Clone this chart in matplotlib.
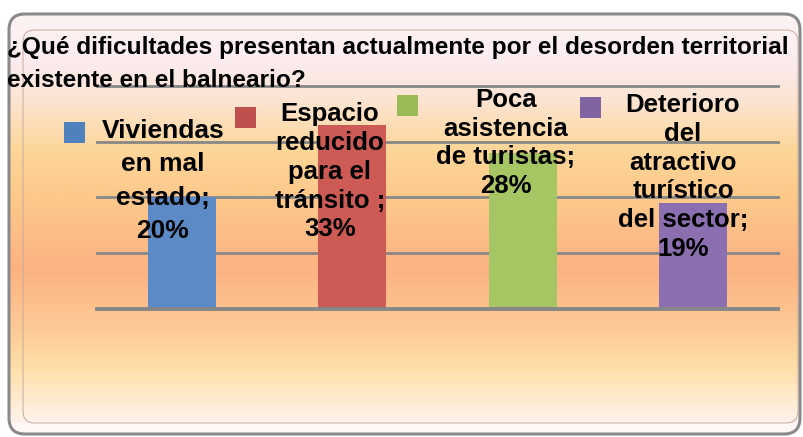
import numpy as np
import matplotlib
matplotlib.use("Agg")
import matplotlib.pyplot as plt
from matplotlib.patches import FancyBboxPatch, Rectangle

# data
categories = ["Viviendas\nen mal\nestado;", "Espacio\nreducido\npara el\ntránsito ;",
              "Poca\nasistencia\nde turistas;", "Deterioro\ndel\natractivo\nturístico\ndel sector;"]
values = [20, 33, 28, 19]
title = "¿Qué dificultades presentan actualmente por el desorden territorial\nexistente en el balneario?"

bar_colors = ["#5B8AC6", "#CD5A55", "#A6C663", "#8B6FB0"]
legend_colors = ["#4F81BD", "#C0504D", "#9BBB59", "#8064A2"]

W, H = 804, 437
fig = plt.figure(figsize=(W / 100, H / 100), dpi=100)

# background frame (pixel coords, y downwards)
bg = fig.add_axes([0, 0, 1, 1])
bg.set_xlim(0, W)
bg.set_ylim(H, 0)
bg.axis("off")

stops_y = [14, 60, 100, 150, 200, 270, 330, 370, 415, 434]
stops_c = [(253, 243, 243), (251, 236, 240), (252, 228, 210), (253, 214, 152), (253, 200, 138),
           (252, 178, 130), (253, 203, 150), (254, 224, 170), (255, 240, 228), (255, 245, 245)]
yy = np.arange(14, 435)
stops_c = np.array(stops_c) / 255.0
grad = np.stack([np.interp(yy, stops_y, stops_c[:, k]) for k in range(3)], axis=-1)
grad = np.repeat(grad[:, None, :], 2, axis=1)

outer = FancyBboxPatch((9, 14), 791, 420, boxstyle="round,pad=0,rounding_size=16",
                       fc="none", ec="#8a8a8a", lw=2.2, zorder=3)
bg.add_patch(outer)
img = bg.imshow(grad, extent=[9, 800, 434, 14], aspect="auto", zorder=1, interpolation="bilinear")
img.set_clip_path(outer)
band = Rectangle((9, 423), 791, 12, fc="#fff6f6", ec="none", zorder=2)
bg.add_patch(band)
band.set_clip_path(outer)
inner = FancyBboxPatch((23, 30), 775, 393, boxstyle="round,pad=0,rounding_size=12",
                       fc="none", ec="#c4aaa0", lw=0.7, zorder=3)
bg.add_patch(inner)

# chart
ax = fig.add_axes([97 / W, 1 - 309 / H, 681 / W, 223 / H])
ax.set_facecolor("none")
x = np.arange(len(values))
ax.bar(x, values, width=0.4, color=bar_colors, zorder=2)
ax.set_xlim(-0.5, 3.5)
ax.set_ylim(0, 40)
for t in [10, 20, 30, 40]:
    ax.axhline(t, color="#878787", lw=2, zorder=1, clip_on=False)
ax.axhline(0, color="#878787", lw=2.8, zorder=3, clip_on=False)
for s in ax.spines.values():
    s.set_visible(False)
ax.set_xticks([])
ax.set_yticks([])

# title
fig.text(7 / W, 1 - 64 / H, title, ha="left", va="center", fontsize=17.6, fontweight="bold",
         family=["Liberation Sans Narrow", "Liberation Sans"], linespacing=1.55, zorder=5)

# legend squares and data labels (pixel positions)
sq_pos = [(64, 122), (235, 107), (397, 95), (580, 97)]
lab_pos = [(163, 181), (330, 172), (506, 143), (683, 177)]
lab_size = [19, 18.5, 18.5, 18.5]
lab_space = [1.5, 1.25, 1.25, 1.25]
for i in range(len(values)):
    sx, sy = sq_pos[i]
    fig.patches.append(Rectangle((sx / W, 1 - (sy + 21) / H), 21 / W, 21 / H,
                                 transform=fig.transFigure, fc=legend_colors[i], ec="none"))
    lx, ly = lab_pos[i]
    fig.text(lx / W, 1 - ly / H, f"{categories[i]}\n{values[i]}%", ha="center", va="center",
             fontsize=lab_size[i], fontweight="bold", family="Liberation Sans",
             linespacing=lab_space[i], zorder=6)

fig.savefig("out.png", dpi=100)
